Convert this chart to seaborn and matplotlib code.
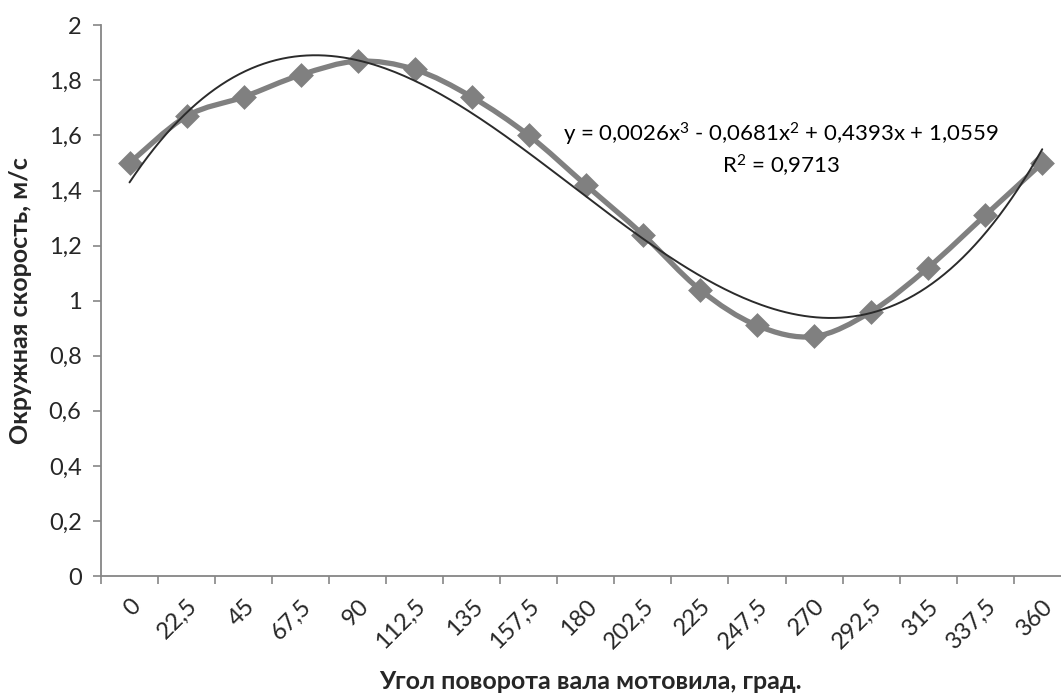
import numpy as np
import pandas as pd
import matplotlib
matplotlib.use("Agg")
import matplotlib.pyplot as plt
from matplotlib.path import Path
from matplotlib.patches import PathPatch
import seaborn as sns

# angle of the reel shaft, degrees
angles = ["0", "22,5", "45", "67,5", "90", "112,5", "135", "157,5", "180",
          "202,5", "225", "247,5", "270", "292,5", "315", "337,5", "360"]
# peripheral speed, m/s
speed = [1.50, 1.67, 1.74, 1.82, 1.87, 1.84, 1.74, 1.60, 1.42,
         1.24, 1.04, 0.91, 0.87, 0.96, 1.12, 1.31, 1.50]
y_ticks = [0, 0.2, 0.4, 0.6, 0.8, 1.0, 1.2, 1.4, 1.6, 1.8, 2.0]
y_tick_labels = ["0", "0,2", "0,4", "0,6", "0,8", "1", "1,2", "1,4", "1,6", "1,8", "2"]
equation = "y = 0,0026x$^{3}$ - 0,0681x$^{2}$ + 0,4393x + 1,0559"
r_squared = "R$^{2}$ = 0,9713"

df = pd.DataFrame({"pos": np.arange(len(angles)), "speed": speed})

sns.set_theme(style="white")
plt.rcParams['font.family'] = ['Lato', 'DejaVu Sans']
plt.rcParams['mathtext.fontset'] = 'custom'
plt.rcParams['mathtext.rm'] = 'Lato'
plt.rcParams['mathtext.default'] = 'rm'

fig = plt.figure(figsize=(10.61, 6.97), dpi=100)
ax = fig.add_axes([0.0952, 0.1736, 0.914, 0.790])

line_color = "#808080"

# smoothed line (Catmull-Rom style bezier through the points, like Excel)
pts = df[["pos", "speed"]].to_numpy(dtype=float)
verts = [tuple(pts[0])]
codes = [Path.MOVETO]
n = len(pts)
for i in range(n - 1):
    p0 = pts[i - 1] if i > 0 else pts[i]
    p1 = pts[i]
    p2 = pts[i + 1]
    p3 = pts[i + 2] if i + 2 < n else pts[i + 1]
    c1 = p1 + (p2 - p0) / 6.0
    c2 = p2 - (p3 - p1) / 6.0
    verts += [tuple(c1), tuple(c2), tuple(p2)]
    codes += [Path.CURVE4] * 3
ax.add_patch(PathPatch(Path(verts, codes), facecolor="none",
                       edgecolor=line_color, lw=3.8, zorder=2))

sns.scatterplot(data=df, x="pos", y="speed", marker="D", s=160,
                color=line_color, edgecolor=line_color, linewidth=0,
                ax=ax, zorder=3, legend=False)

# polynomial trendline of degree 3 (x = 1..17 as in Excel)
xs = df["pos"].to_numpy() + 1
coef = np.polyfit(xs, df["speed"], 3)
xf = np.linspace(xs.min(), xs.max(), 300)
ax.plot(xf - 1, np.polyval(coef, xf), color="#2b2b2b", lw=1.4, zorder=4)

ax.text(11.42, 1.605, equation, ha="center", va="center", fontsize=16, color="black")
ax.text(11.42, 1.49, r_squared, ha="center", va="center", fontsize=16, color="black")

ax.set_xlim(-0.5, len(angles) - 0.5)
ax.set_ylim(0, 2)
ax.set_yticks(y_ticks)
ax.set_yticklabels(y_tick_labels, fontsize=17)

# ticks between categories, labels at category centres
ax.set_xticks(np.arange(len(angles) + 1) - 0.5)
ax.set_xticklabels([])
ax.set_xticks(np.arange(len(angles)), minor=True)
ax.set_xticklabels(angles, minor=True, rotation=45, ha="right",
                   rotation_mode="anchor", fontsize=17)
ax.tick_params(axis="x", which="major", direction="out", length=6,
               width=1.2, color="#868686", bottom=True)
ax.tick_params(axis="x", which="minor", length=0, pad=14)
ax.tick_params(axis="y", direction="out", length=6, width=1.2,
               color="#868686", left=True, pad=8)

for side in ["top", "right"]:
    ax.spines[side].set_visible(False)
for side in ["left", "bottom"]:
    ax.spines[side].set_color("#868686")
    ax.spines[side].set_linewidth(1.3)

ax.set_xlabel("Угол поворота вала мотовила, град.", fontsize=18,
              fontweight="bold")
ax.xaxis.set_label_coords((590 - 101) / 969.5, -0.17)
ax.set_ylabel("Окружная скорость, м/с", fontsize=18, fontweight="bold")
ax.yaxis.set_label_coords(-0.071, 0.5)
ax.grid(False)

fig.savefig("out.png", dpi=100)
